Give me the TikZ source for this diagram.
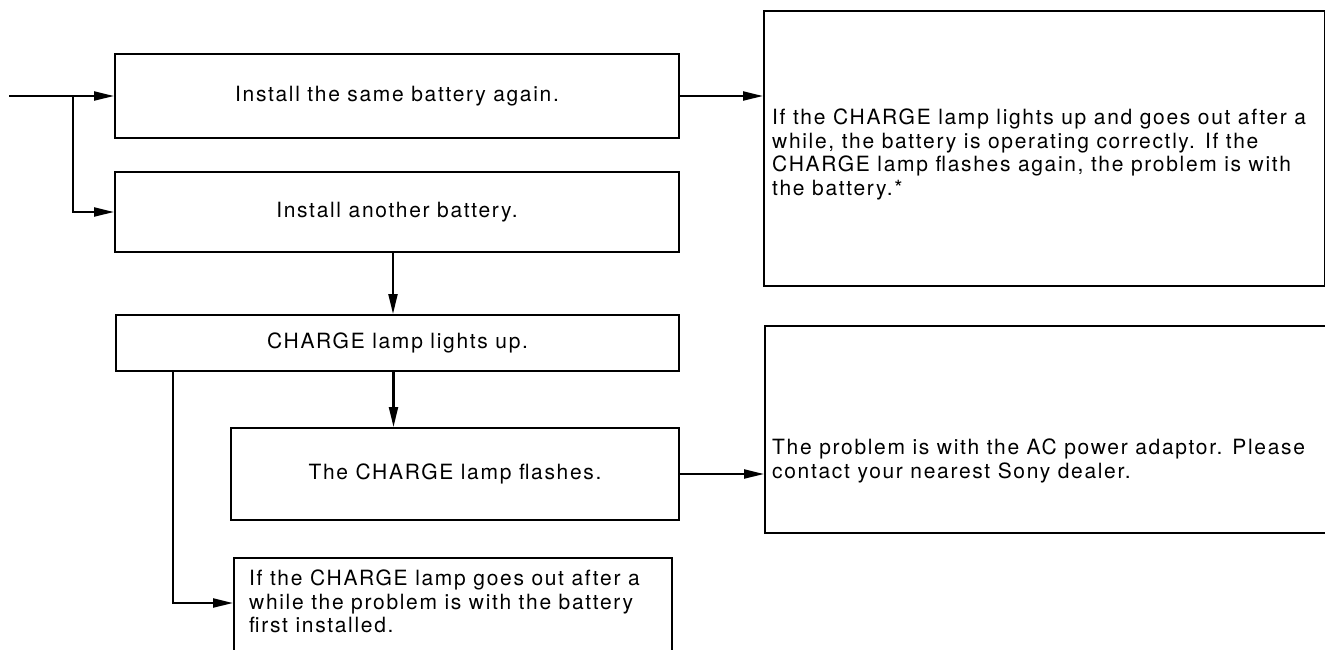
\documentclass[tikz,border=0pt]{standalone}
\usepackage{fontspec}
\setmainfont{TeX Gyre Heros}[LetterSpace=8]
\usetikzlibrary{arrows.meta,positioning}

\begin{document}
\begin{tikzpicture}[x=1pt, y=-1pt,
  every node/.style={font=\fontsize{21}{23.5}\selectfont, inner sep=0pt},
  box/.style={draw, line width=2pt},
  txt/.style={align=left, anchor=north west},
  arr/.style={line width=2.2pt, -{Triangle[length=20pt,width=9pt]}}]
  \useasboundingbox (0,0) rectangle (1325,649);
  \clip (0,0) rectangle (1325,649);
  % left column
  \node[box, minimum width=564pt, minimum height=84pt] (inA) at (397,96) {Install the same battery again.};
  \node[box, minimum width=564pt, minimum height=80pt] (inB) at (397,212) {Install another battery.};
  \node[box, minimum width=563pt, minimum height=56pt] (lit) at (397.5,343) {CHARGE lamp lights up.};
  \node[box, minimum width=448pt, minimum height=92pt] (flash) at (455,474) {The CHARGE lamp flashes.};
  \node[box, anchor=north west, minimum width=438pt, minimum height=130pt] (outE) at (233,557) {};
  \node[txt] (outEtxt) at (249,570) {If the CHARGE lamp goes out after a\\while the problem is with the battery\\first installed.};
  % right column
  \node[box, anchor=north west, minimum width=561pt, minimum height=275pt] (res1) at (763,10) {};
  \node[txt] (res1txt) at (772,109) {If the CHARGE lamp lights up and goes out after a\\while, the battery is operating correctly. If the\\CHARGE lamp flashes again, the problem is with\\the battery.*};
  \node[box, anchor=north west, minimum width=590pt, minimum height=207pt] (res2) at (764,325) {};
  \node[txt] (res2txt) at (772,439) {The problem is with the AC power adaptor. Please\\contact your nearest Sony dealer.};
  % connectors
  \coordinate (start) at (9,96);
  \coordinate (fork) at (73,96);
  \draw[arr] (start) -- (inA.west);
  \draw[arr] (fork) |- (inB.west);
  \draw[arr] (inA.east) -- (inA.east -| res1.west);
  \draw[arr] ([xshift=-4pt]inB.south) -- ([xshift=-4pt]inB.south |- lit.north);
  \draw[arr] ([xshift=-4pt]lit.south) -- ([xshift=-4pt]lit.south |- flash.north);
  \draw[arr] ([xshift=58pt]lit.south west) |- ([yshift=-46pt]outE.north west);
  \draw[arr] (flash.east) -- (flash.east -| res2.west);
\end{tikzpicture}
\end{document}
